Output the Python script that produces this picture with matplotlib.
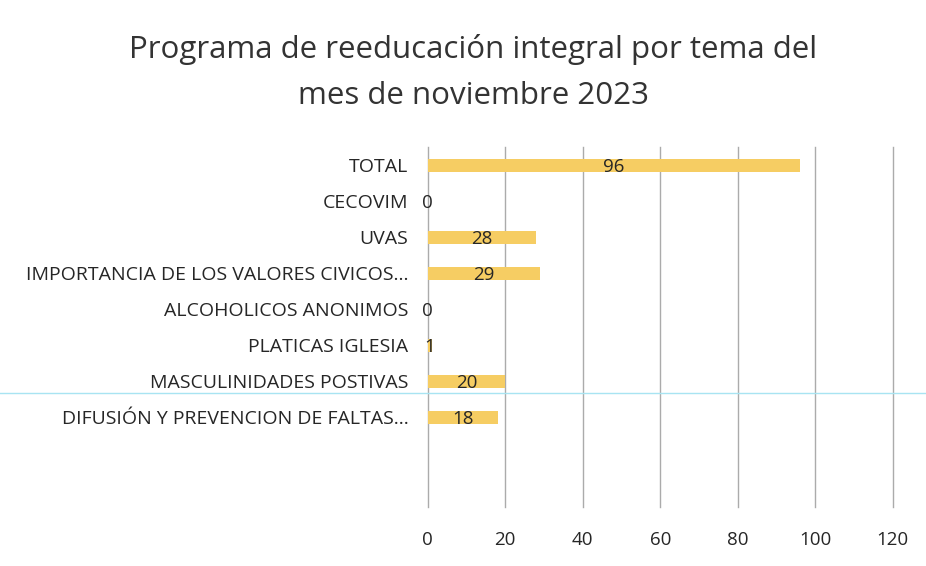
import matplotlib.pyplot as plt
from matplotlib.lines import Line2D

# data (top to bottom), two empty slots at the bottom
temas = ["TOTAL", "CECOVIM", "UVAS", "IMPORTANCIA DE LOS VALORES CIVICOS...",
         "ALCOHOLICOS ANONIMOS", "PLATICAS IGLESIA", "MASCULINIDADES POSTIVAS",
         "DIFUSIÓN Y PREVENCION DE FALTAS...", "", ""]
valores = [96, 0, 28, 29, 0, 1, 20, 18, None, None]
xticks = [0, 20, 40, 60, 80, 100, 120]

plt.rcParams['font.family'] = ['Open Sans', 'DejaVu Sans']

fig = plt.figure(figsize=(9.26, 5.66), dpi=100)
ax = fig.add_axes([0.462, 0.104, 0.502, 0.636])

ypos = list(range(len(temas)))
for y, v in zip(ypos, valores):
    if v is None:
        continue
    ax.barh(y, v, height=0.36, color='#F6CD63', zorder=3)
    ax.text(v / 2, y + 0.05, str(v), ha='center', va='center', fontsize=13.5,
            color='#262626', zorder=4)

ax.set_ylim(len(temas) - 0.5, -0.5)
ax.set_xlim(0, 120)
ax.set_yticks(ypos)
ax.set_yticklabels(temas, fontsize=14, color='#262626')
ax.set_xticks(xticks)
ax.set_xticklabels([str(t) for t in xticks], fontsize=13.5, color='#262626')
ax.tick_params(axis='both', length=0)
ax.tick_params(axis='y', pad=14)
ax.tick_params(axis='x', pad=17)
for t in xticks:
    ax.axvline(t, color='#ABABAB', linewidth=1, zorder=0, clip_on=False)
for s in ax.spines.values():
    s.set_visible(False)

fig.suptitle("Programa de reeducación integral por tema del\nmes de noviembre 2023",
             x=0.511, y=0.94, fontsize=22.5, color='#333333', linespacing=1.7)

# faint scanner line across the page
fig.add_artist(Line2D([0, 1], [1 - 393 / 566] * 2, color='#A8E4F2', linewidth=1))

plt.savefig("out.png", dpi=100)
